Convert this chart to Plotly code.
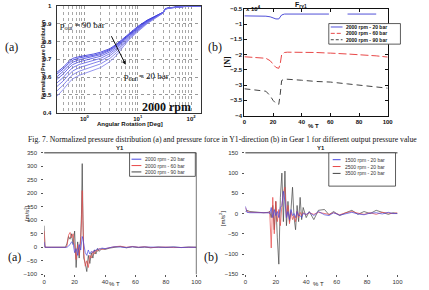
import plotly.graph_objects as go

W, H = 429, 290
def px(x): return x / W
def py(y): return 1 - y / H

# ---------------- data ----------------
# (a) top: normalized pressure distribution vs angular rotation
tl_x = [0.3, 0.35, 0.4, 0.5, 0.6, 0.8, 1, 1.5, 2, 3, 4, 5, 7, 10, 15, 20, 25, 30, 33, 40, 60, 100, 155]
p90 = [0.625,0.64,0.655,0.685,0.705,0.715,0.72,0.73,0.74,0.76,0.785,0.81,0.85,0.885,0.92,0.94,0.955,0.965,0.985,0.99,0.995,1.0,1.0]
p80 = [0.615,0.63,0.645,0.675,0.695,0.708,0.713,0.723,0.733,0.755,0.78,0.805,0.845,0.88,0.918,0.938,0.954,0.964,0.985,0.99,0.995,1.0,1.0]
p70 = [0.60,0.615,0.632,0.662,0.683,0.698,0.704,0.715,0.726,0.75,0.775,0.80,0.84,0.876,0.915,0.936,0.953,0.964,0.984,0.99,0.995,1.0,1.0]
p60 = [0.585,0.60,0.617,0.648,0.67,0.686,0.693,0.705,0.717,0.742,0.768,0.795,0.836,0.872,0.912,0.934,0.951,0.963,0.984,0.989,0.995,1.0,1.0]
p50 = [0.565,0.58,0.598,0.63,0.653,0.671,0.679,0.692,0.705,0.732,0.76,0.788,0.831,0.868,0.909,0.932,0.95,0.962,0.983,0.989,0.994,1.0,1.0]
p40 = [0.545,0.56,0.578,0.61,0.634,0.653,0.662,0.677,0.691,0.72,0.75,0.78,0.826,0.864,0.906,0.93,0.948,0.962,0.983,0.989,0.994,1.0,1.0]
p30 = [0.52,0.537,0.555,0.588,0.613,0.633,0.643,0.659,0.674,0.705,0.737,0.771,0.82,0.86,0.903,0.928,0.947,0.961,0.982,0.988,0.994,1.0,1.0]
p20 = [0.49,0.51,0.53,0.565,0.59,0.61,0.62,0.637,0.653,0.687,0.722,0.76,0.813,0.855,0.9,0.925,0.945,0.96,0.982,0.988,0.994,1.0,1.0]
tl_curves = [p90, p80, p70, p60, p50, p40, p30, p20]

# (b) top: pressure force F_ry1 (x 10^4)
tr_x = [0, 5, 10, 15, 18, 20, 22, 24, 25, 26, 28, 30, 40, 50, 59, 60, 72, 80, 92, 100]
tr_20 = [-0.73,-0.73,-0.73,-0.74,-0.76,-0.80,-0.83,-0.83,-0.78,-0.70,-0.67,-0.67,-0.67,-0.67,-0.67,None,-0.67,-0.67,-0.67,None]
tr_60 = [-2.07,-2.09,-2.10,-2.12,-2.20,-2.32,-2.42,-2.45,-2.30,-2.00,-1.93,-1.92,-1.92,-1.93,-1.95,-1.95,-1.98,-2.00,-2.04,-2.08]
tr_90 = [-3.12,-3.14,-3.16,-3.20,-3.35,-3.50,-3.60,-3.63,-3.30,-2.85,-2.80,-2.81,-2.84,-2.88,-2.90,-2.90,-2.96,-3.00,-3.06,-3.10]
tr_names = ["2000 rpm - 20 bar", "2000 rpm - 60 bar", "2000 rpm - 90 bar"]

# bottom (a): Y1 acceleration, 2000 rpm, different pressures
bl_x = [0, 0.5, 5, 10, 14, 15, 16, 17, 18, 19, 20, 21, 22, 23, 24, 24.5, 25, 25.5, 26, 27, 28, 29, 30, 31, 32, 33, 34, 35, 36, 38, 40, 43, 46, 50, 54, 58, 62, 66, 70, 75, 80, 85, 90, 95, 100]
bl_90 = [80,0,0,0,0,15,40,30,50,10,60,-75,20,-40,40,120,310,100,-40,-60,-90,-30,-60,-20,-40,-10,-25,-5,-15,-5,-8,-3,0,3,-2,2,-1,1,-2,1,-1,1,-1,1,0]
bl_60 = [60,0,0,0,0,5,45,55,35,50,-10,-45,10,-30,30,90,210,60,-20,-70,-50,-75,-30,-40,-15,-25,-10,-15,-5,-8,-5,-2,2,4,0,3,0,2,-1,0,1,-1,0,1,0]
bl_20 = [20,0,0,0,0,0,5,10,20,15,-20,-5,-30,10,-10,20,40,30,10,-20,-30,-10,-25,-15,-20,-10,-12,-5,-8,-3,-5,-1,2,1,-1,2,0,1,0,-1,0,1,-1,0,0]
bl_names = ["2000 rpm - 20 bar", "2000 rpm - 60 bar", "2000 rpm - 90 bar"]

# bottom (b): Y1 acceleration, 20 bar, different speeds
br_x = [0, 1, 3, 8, 12, 15, 16, 17, 18, 19, 20, 21, 22, 23, 24, 25, 26, 27, 28, 29, 30, 31, 32, 33, 34, 35, 36, 37, 38, 40, 42, 45, 48, 52, 55, 58, 62, 66, 70, 74, 78, 82, 86, 90, 94, 97, 100]
br_3500 = [5,8,5,3,2,3,5,-10,20,-40,30,-60,-125,40,100,-20,105,-30,30,-20,10,65,-10,-40,20,-20,40,-15,15,-10,5,-15,8,10,-3,5,-5,2,8,-2,5,0,8,3,-2,2,0]
br_2500 = [15,5,3,2,2,2,5,-85,40,-50,30,-20,10,-30,20,50,65,-10,20,-25,5,-15,-5,-20,5,-10,3,-5,2,-3,2,-2,3,0,-2,2,-3,2,5,1,-2,2,-2,3,1,0,2]
br_1500 = [18,3,2,2,2,2,0,15,-10,10,-5,5,-10,15,20,55,30,-10,5,-15,10,-5,0,-10,5,-5,-5,-10,0,-2,3,-5,5,-3,-5,2,-4,0,3,-1,-3,1,2,-1,3,0,0]
br_names = ["1500 rpm - 20 bar", "2500 rpm - 20 bar", "3500 rpm - 20 bar"]

BLUE = "#4646e0"
RED = "#e84848"
BLK = "#444444"

fig = go.Figure()

# top-left curves
tl_cols = ["#2a2ad8", "#3434dc", "#3e3ee0", "#4a4ae2", "#5656e4", "#6262e6", "#6e6ee8", "#7a7aea"]
for c, col in zip(tl_curves, tl_cols):
    fig.add_trace(go.Scatter(x=tl_x, y=c, mode="lines", line=dict(color=col, width=0.8),
                             xaxis="x", yaxis="y", showlegend=False))

# top-right
fig.add_trace(go.Scatter(x=tr_x, y=tr_20, mode="lines", line=dict(color="#5050d8", width=1),
                         xaxis="x2", yaxis="y2", showlegend=False, connectgaps=False))
fig.add_trace(go.Scatter(x=tr_x, y=tr_60, mode="lines", line=dict(color=RED, width=1, dash="8px,3px"),
                         xaxis="x2", yaxis="y2", showlegend=False))
fig.add_trace(go.Scatter(x=tr_x, y=tr_90, mode="lines", line=dict(color=BLK, width=1, dash="6px,4px"),
                         xaxis="x2", yaxis="y2", showlegend=False))

# bottom-left
fig.add_trace(go.Scatter(x=bl_x, y=bl_90, mode="lines", line=dict(color=BLK, width=0.7), xaxis="x3", yaxis="y3", showlegend=False))
fig.add_trace(go.Scatter(x=bl_x, y=bl_60, mode="lines", line=dict(color=RED, width=0.7), xaxis="x3", yaxis="y3", showlegend=False))
fig.add_trace(go.Scatter(x=bl_x, y=bl_20, mode="lines", line=dict(color=BLUE, width=0.7), xaxis="x3", yaxis="y3", showlegend=False))

# bottom-right
fig.add_trace(go.Scatter(x=br_x, y=br_3500, mode="lines", line=dict(color=BLK, width=0.7), xaxis="x4", yaxis="y4", showlegend=False))
fig.add_trace(go.Scatter(x=br_x, y=br_2500, mode="lines", line=dict(color=RED, width=0.7), xaxis="x4", yaxis="y4", showlegend=False))
fig.add_trace(go.Scatter(x=br_x, y=br_1500, mode="lines", line=dict(color=BLUE, width=0.7), xaxis="x4", yaxis="y4", showlegend=False))

sans = "Liberation Sans, Arial, sans-serif"
serif = "Liberation Serif, Times New Roman, serif"
bold_tick = dict(family=sans, size=6, color="#111", weight="bold")
small_tick = dict(family=sans, size=6, color="#333")

minor_vals = [k * 10 ** e for e in (-1, 0, 1, 2) for k in range(2, 10)]

fig.update_layout(
    width=W, height=H, margin=dict(l=0, r=0, t=0, b=0),
    paper_bgcolor="white", plot_bgcolor="white",
    xaxis=dict(domain=[px(55.7), px(203)], type="log", range=[-0.52, 2.19], anchor="y",
               tickvals=[1, 10, 100], ticktext=["10<sup>0</sup>", "10<sup>1</sup>", "10<sup>2</sup>"],
               showgrid=True, gridcolor="#9a9a9a", griddash="dot", gridwidth=0.6,
               minor=dict(tickvals=minor_vals, showgrid=True, gridcolor="#a8a8a8", griddash="dot", gridwidth=0.5, ticks=""),
               showline=True, mirror=True, linecolor="#333", linewidth=1, ticks="", tickfont=bold_tick, zeroline=False),
    yaxis=dict(domain=[py(112), py(3)], range=[0.4, 1], anchor="x", dtick=0.1,
               showgrid=True, gridcolor="#9a9a9a", griddash="dot", gridwidth=0.6,
               showline=True, mirror=True, linecolor="#333", linewidth=1, ticks="", tickfont=bold_tick,
               ticklabelstandoff=3, zeroline=False),
    xaxis2=dict(domain=[px(247), px(393)], range=[0, 100], anchor="y2", dtick=20,
                showgrid=False, showline=True, mirror="ticks", linecolor="#111", linewidth=1,
                ticks="inside", ticklen=3, tickcolor="#111", tickfont=bold_tick, zeroline=False),
    yaxis2=dict(domain=[py(115), py(6)], range=[-4, -0.5], anchor="x2", dtick=0.5,
                showgrid=False, showline=True, mirror="ticks", linecolor="#111", linewidth=1,
                ticks="inside", ticklen=3, tickcolor="#111", tickfont=bold_tick, zeroline=False),
    xaxis3=dict(domain=[px(43), px(198)], range=[0, 100], anchor="y3", dtick=20,
                showgrid=False, showline=False, ticks="outside", ticklen=2, tickcolor="#555",
                tickfont=small_tick, zeroline=False),
    yaxis3=dict(domain=[py(277), py(153)], range=[-100, 350], anchor="x3", dtick=50,
                showgrid=False, showline=False, ticks="outside", ticklen=2, tickcolor="#555",
                tickfont=small_tick, zeroline=False, ticklabelstandoff=3),
    xaxis4=dict(domain=[px(248), px(403)], range=[0, 100], anchor="y4", dtick=20,
                showgrid=False, showline=False, ticks="outside", ticklen=2, tickcolor="#555",
                tickfont=small_tick, zeroline=False),
    yaxis4=dict(domain=[py(277), py(153)], range=[-150, 150], anchor="x4", dtick=50,
                showgrid=False, showline=False, ticks="outside", ticklen=2, tickcolor="#555",
                tickfont=small_tick, zeroline=False, ticklabelstandoff=3),
)

shapes = []
annots = []

def text(x, y, s, size=6, family=sans, color="#111", angle=0, xanchor="center", yanchor="middle", weight="normal"):
    annots.append(dict(x=px(x), y=py(y), xref="paper", yref="paper", text=s, showarrow=False,
                       font=dict(size=size, family=family, color=color, weight=weight), textangle=angle,
                       xanchor=xanchor, yanchor=yanchor))

def hline(x0, x1, y, color="#333", width=1, dash="solid"):
    shapes.append(dict(type="line", xref="paper", yref="paper", x0=px(x0), x1=px(x1), y0=py(y), y1=py(y),
                       line=dict(color=color, width=width, dash=dash)))

def legend(box, sx, tx, ys, names, colors, dashes, fsize, weight, tcolor):
    x0, y0, x1, y1 = box
    shapes.append(dict(type="rect", xref="paper", yref="paper", x0=px(x0), x1=px(x1), y0=py(y1), y1=py(y0),
                       line=dict(color="#333", width=0.8), fillcolor="white"))
    for yy, n, c, d in zip(ys, names, colors, dashes):
        hline(sx[0], sx[1], yy, color=c, width=1, dash=d)
        text(tx, yy, n, size=fsize, family=sans, color=tcolor, xanchor="left", weight=weight)

# bottom plots frame lines (top & right visible)
for ax, right in [("3", True), ("4", False)]:
    shapes.append(dict(type="line", xref=f"x{ax} domain", yref=f"y{ax} domain", x0=0, x1=1, y0=1, y1=1,
                       line=dict(color="#333", width=1)))
    if right:
        shapes.append(dict(type="line", xref=f"x{ax} domain", yref=f"y{ax} domain", x0=1, x1=1, y0=0, y1=1,
                           line=dict(color="#555", width=0.8)))

# legends
legend((333, 21, 406, 42), (335, 347), 349, [24.5, 31, 37.5], tr_names,
       ["#5050d8", RED, BLK], ["solid", "4px,2px", "3px,2px"], 5, "bold", "#111")
legend((130, 153, 197, 177), (132, 142), 144, [159.5, 166, 172.5], bl_names,
       [BLUE, RED, BLK], ["solid", "solid", "solid"], 5, "normal", "#333")
legend((333, 153, 401, 187), (337, 345), 347, [160, 167, 174], br_names,
       [BLUE, RED, BLK], ["solid", "solid", "solid"], 5, "normal", "#333")

# top-left annotations
text(82, 23, "p<sub>out</sub> = 90 bar", size=9, family=serif, color="#111")
text(147, 75, "p<sub>out</sub> = 20 bar", size=9, family=serif, color="#111")
annots.append(dict(x=px(126), y=py(63), xref="paper", yref="paper", ax=-15, ay=-30, text="",
                   showarrow=True, arrowhead=2, arrowsize=0.8, arrowwidth=1, arrowcolor="#111"))
text(168, 106, "2000 rpm", size=12, family=serif, color="#111", weight="bold")
text(42, 58, "Normalized Pressure Distribution", size=5, family=sans, angle=-90, weight="bold")
text(130, 124, "Angular Rotation [Deg]", size=6, family=sans, weight="bold")

# top-right annotations
text(247, 5, "x 10<sup>4</sup>", size=6, family=sans, xanchor="left", weight="bold")
text(305, 2, "F<sub>ry1</sub>", size=7, family=sans, weight="bold")
text(230, 60, "[N]", size=8, family=serif, angle=-90, weight="bold")
text(317, 126, "% T", size=6, family=sans, weight="bold")

# panel letters
text(10, 45, "(a)", size=12, family=serif)
text(217, 45, "(b)", size=12, family=serif)
text(13, 259, "(a)", size=12, family=serif)
text(213, 259, "(b)", size=12, family=serif)

# caption
text(24, 139, "Fig. 7. Normalized pressure distribution (a) and pressure force in Y1-direction (b) in Gear 1 for different output pressure value",
     size=7.7, family=serif, xanchor="left")

# bottom titles and labels
text(120, 148.5, "Y1", size=6, family=sans, color="#222", weight="bold")
text(325, 148.5, "Y1", size=6, family=sans, color="#222", weight="bold")
text(25, 215, "[m/s<sup>2</sup>]", size=6, family=sans, angle=-90, color="#222")
text(225, 220, "[m/s<sup>2</sup>]", size=6, family=sans, angle=-90, color="#222")
text(115, 287, "% T", size=6, family=sans, color="#222")
text(323, 287, "% T", size=6, family=sans, color="#222")

fig.update_layout(shapes=shapes, annotations=annots)
fig.write_html("out.html")
